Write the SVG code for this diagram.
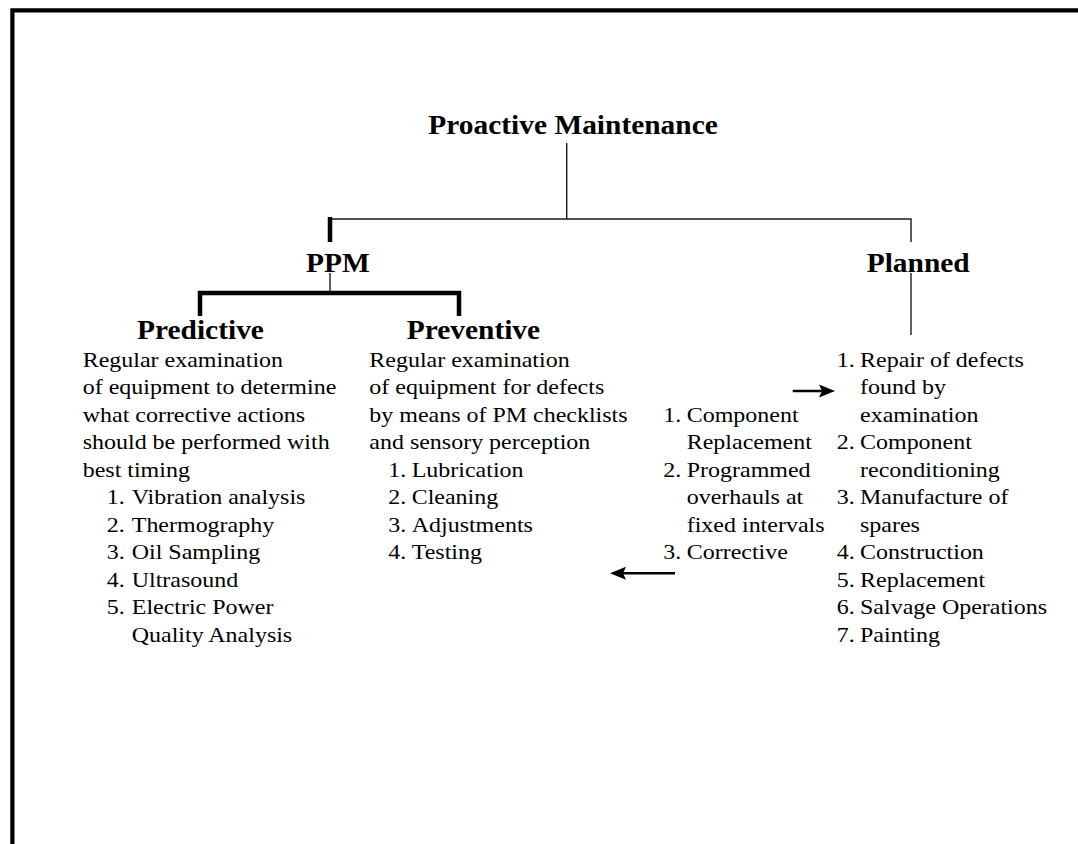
<svg xmlns="http://www.w3.org/2000/svg" width="1078" height="844" viewBox="0 0 1078 844">
<style>
  text { font-family: "Liberation Serif", "Times New Roman", serif; fill: #000; }
  .b { font-size: 22px; }
  .h { font-size: 27px; font-weight: bold; }
  .thin { stroke: #1a1a1a; stroke-width: 1.4; fill: none; }
  .thick { stroke: #000; stroke-width: 4.5; fill: none; }
  .arrow { stroke: #000; stroke-width: 2.5; fill: none; marker-end: url(#ah); }
</style>
<defs>
  <marker id="ah" markerWidth="18" markerHeight="16" refX="3" refY="8" orient="auto" markerUnits="userSpaceOnUse">
    <path d="M0,1.5 L16,8 L0,14.5 L3,8 Z" fill="#000"/>
  </marker>
</defs>
<rect width="1078" height="844" fill="#fff"/>
<path d="M12.4 844 V10.3 H1078" stroke="#000" stroke-width="4.2" fill="none"/>

<g id="connectors">
  <path class="thin" d="M566.7 143 V219"/>
  <path class="thin" d="M329 219 H911 V242"/>
  <path class="thick" d="M330 217 V242" stroke-width="4"/>
  <path class="thin" d="M330 273 V293"/>
  <path class="thick" d="M200 316 V293 H459 V316"/>
  <path class="thin" d="M911 273 V335"/>
  <path class="arrow" d="M792.7 391 H822"/>
  <path class="arrow" d="M675 573.3 H623"/>
</g>

<g id="node-proactive" transform="translate(428.3 0) scale(1.09 1)">
  <text class="h" x="0" y="134.3">Proactive Maintenance</text>
</g>
<g id="node-ppm" transform="translate(306 0) scale(1.09 1)">
  <text class="h" x="0" y="271.7">PPM</text>
</g>
<g id="node-planned" transform="translate(866.7 0) scale(1.09 1)">
  <text class="h" x="0" y="271.7">Planned</text>
</g>

<g id="node-predictive">
  <g transform="translate(137 0) scale(1.09 1)">
    <text class="h" x="0" y="339.3">Predictive</text>
  </g>
  <g transform="translate(82.7 0) scale(1.09 1)">
    <text class="b" x="0" y="367">Regular examination</text>
    <text class="b" x="0" y="394.5">of equipment to determine</text>
    <text class="b" x="0" y="422">what corrective actions</text>
    <text class="b" x="0" y="449.5">should be performed with</text>
    <text class="b" x="0" y="477">best timing</text>
    <text class="b" x="22" y="504.5">1.</text><text class="b" x="45" y="504.5">Vibration analysis</text>
    <text class="b" x="22" y="532">2.</text><text class="b" x="45" y="532">Thermography</text>
    <text class="b" x="22" y="559.5">3.</text><text class="b" x="45" y="559.5">Oil Sampling</text>
    <text class="b" x="22" y="587">4.</text><text class="b" x="45" y="587">Ultrasound</text>
    <text class="b" x="22" y="614.5">5.</text><text class="b" x="45" y="614.5">Electric Power</text>
    <text class="b" x="45" y="642">Quality Analysis</text>
  </g>
</g>

<g id="node-preventive">
  <g transform="translate(406.7 0) scale(1.09 1)">
    <text class="h" x="0" y="339.3">Preventive</text>
  </g>
  <g transform="translate(369.3 0) scale(1.09 1)">
    <text class="b" x="0" y="367">Regular examination</text>
    <text class="b" x="0" y="394.5">of equipment for defects</text>
    <text class="b" x="0" y="422">by means of PM checklists</text>
    <text class="b" x="0" y="449.5">and sensory perception</text>
    <text class="b" x="17.4" y="477">1.</text><text class="b" x="38.9" y="477">Lubrication</text>
    <text class="b" x="17.4" y="504.5">2.</text><text class="b" x="38.9" y="504.5">Cleaning</text>
    <text class="b" x="17.4" y="532">3.</text><text class="b" x="38.9" y="532">Adjustments</text>
    <text class="b" x="17.4" y="559.5">4.</text><text class="b" x="38.9" y="559.5">Testing</text>
  </g>
</g>

<g id="node-planned-middle" transform="translate(663.3 0) scale(1.09 1)">
  <text class="b" x="0" y="422">1.</text><text class="b" x="21.5" y="422">Component</text>
  <text class="b" x="21.5" y="449.5">Replacement</text>
  <text class="b" x="0" y="477">2.</text><text class="b" x="21.5" y="477">Programmed</text>
  <text class="b" x="21.5" y="504.5">overhauls at</text>
  <text class="b" x="21.5" y="532">fixed intervals</text>
  <text class="b" x="0" y="559.5">3.</text><text class="b" x="21.5" y="559.5">Corrective</text>
</g>

<g id="node-planned-right" transform="translate(836.7 0) scale(1.09 1)">
  <text class="b" x="0" y="367">1.</text><text class="b" x="21.4" y="367">Repair of defects</text>
  <text class="b" x="21.4" y="394.5">found by</text>
  <text class="b" x="21.4" y="422">examination</text>
  <text class="b" x="0" y="449.5">2.</text><text class="b" x="21.4" y="449.5">Component</text>
  <text class="b" x="21.4" y="477">reconditioning</text>
  <text class="b" x="0" y="504.5">3.</text><text class="b" x="21.4" y="504.5">Manufacture of</text>
  <text class="b" x="21.4" y="532">spares</text>
  <text class="b" x="0" y="559.5">4.</text><text class="b" x="21.4" y="559.5">Construction</text>
  <text class="b" x="0" y="587">5.</text><text class="b" x="21.4" y="587">Replacement</text>
  <text class="b" x="0" y="614.5">6.</text><text class="b" x="21.4" y="614.5">Salvage Operations</text>
  <text class="b" x="0" y="642">7.</text><text class="b" x="21.4" y="642">Painting</text>
</g>
</svg>
